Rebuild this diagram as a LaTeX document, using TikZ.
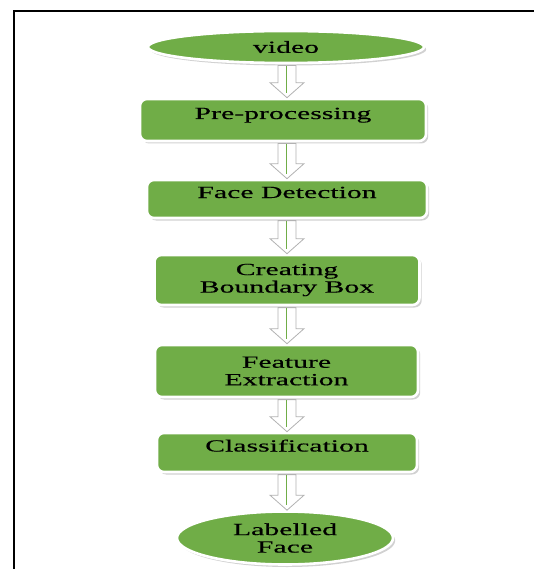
\documentclass[tikz,border=0pt]{standalone}
\usepackage{fontspec}
\setmainfont{Liberation Serif}[FakeStretch=1.75, FakeBold=0.35]
\usetikzlibrary{shapes.geometric,shadows,calc}
\definecolor{leaf}{HTML}{70AD47}

% hollow block arrow running from the bottom of #1 to the top of #2
\newcommand\flowarrow[2]{%
  \path[arrowbody] let \p0=(axis), \p1=(#1.south), \p2=(#2.north) in
    (\x0-9pt,\y1-1.3pt) -- (\x0+9pt,\y1-1.3pt) -- (\x0+9pt,\y2+15pt)
    -- (\x0+17pt,\y2+15pt) -- (\x0,\y2) -- (\x0-17pt,\y2+15pt)
    -- (\x0-9pt,\y2+15pt) -- cycle;
  \draw[arrowcore] let \p0=(axis), \p1=(#1.south), \p2=(#2.north) in
    (\x0-1pt,\y1-2pt) -- (\x0-1pt,\y2+5pt);
}

\begin{document}
\begin{tikzpicture}[x=1pt,y=-1pt,
  stage/.style={draw=white, line width=2.6pt, fill=leaf, rounded corners=7pt,
    general shadow={fill=black!18, shadow xshift=2.2pt, shadow yshift=-2.5pt},
    font=\fontsize{17}{17.5}\selectfont, align=center, inner sep=0pt},
  terminal/.style={stage, ellipse, rounded corners=0pt},
  oneline/.style={text height=12pt, text depth=14pt},
  arrowbody/.style={fill=white, draw=black!30, line width=0.8pt, line join=miter},
  arrowcore/.style={draw=leaf, line width=0.8pt},
  frame/.style={line width=2pt, line cap=rect}]
\useasboundingbox (0,0) rectangle (533,569);

% page frame (top and left rules)
\coordinate (ftr) at (533,11);
\coordinate (fc) at (14,11);
\coordinate (fbl) at (14,569);
\draw[frame] (ftr) -- (fc) -- (fbl);

% common vertical axis of the arrows
\coordinate (axis) at (287,0);

\node[terminal, minimum width=276pt, minimum height=32pt] (video) at (286,47) {video};
\node[stage, oneline, minimum width=286pt, minimum height=42pt] (pre) at (283,120) {Pre-processing};
\node[stage, oneline, minimum width=280pt, minimum height=38pt] (face) at (287,199) {Face Detection};
\node[stage, minimum width=265pt, minimum height=50pt] (bbox) at (287,280) {Creating\\Boundary Box};
\node[stage, minimum width=263pt, minimum height=52pt] (feat) at (286.5,371) {Feature\\Extraction};
\node[stage, oneline, minimum width=260pt, minimum height=39pt] (cls) at (287,452.5) {Classification};
\node[terminal, minimum width=216pt, minimum height=53pt] (out) at (285,538) {Labelled\\Face};

\flowarrow{video}{pre}
\flowarrow{pre}{face}
\flowarrow{face}{bbox}
\flowarrow{bbox}{feat}
\flowarrow{feat}{cls}
\flowarrow{cls}{out}
\end{tikzpicture}
\end{document}
